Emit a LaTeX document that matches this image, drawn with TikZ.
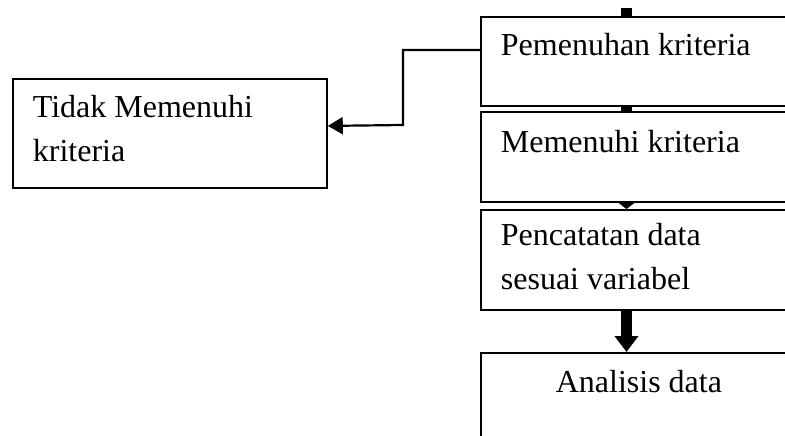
\documentclass[tikz,border=0pt]{standalone}
\usepackage{fontspec}
\setmainfont{Liberation Serif}
\usetikzlibrary{positioning,arrows.meta}
\tikzset{
  kotak/.style={rectangle, draw=black, line width=1.8pt, anchor=north west,
    inner ysep=0pt, inner xsep=20pt, text width=276pt, align=flush left,
    font=\fontsize{32}{44}\selectfont},
  panah/.style={-{Triangle[length=15pt,width=17pt]}, line width=2.2pt},
  batang/.style={line width=11pt},
  panahkecil/.style={-{Triangle[length=7pt,width=18pt]}, line width=0.5pt},
  panahtebal/.style={-{Triangle[length=16pt,width=23pt]}, line width=11pt},
}
\begin{document}
\begin{tikzpicture}[x=1pt,y=-1pt]
  \useasboundingbox (0,0) rectangle (785,436);
  \clip (0,0) rectangle (785,436);
  % kotak alur
  \node[kotak, text height=39pt, text depth=50pt] (penuh) at (480,16) {Pemenuhan kriteria};
  \node[kotak, text height=41pt, text depth=49pt] (memenuhi) at (480,111) {Memenuhi kriteria};
  \node[kotak, text height=36pt, text depth=64pt] (catat) at (480,209) {Pencatatan data\\sesuai variabel};
  \node[kotak, text height=40pt, text depth=70pt, align=flush center] (analisis) at (480,352) {Analisis data};
  \node[kotak, text width=274pt, text height=39pt, text depth=70pt] (tidak) at (12,78) {Tidak Memenuhi\\kriteria};
  % penghubung
  \coordinate (atas) at (626.5,8);
  \coordinate (belok) at (403,125);
  \draw[batang] (atas) -- (atas |- penuh.north);
  \draw[batang] (penuh.south -| atas) -- (memenuhi.north -| atas);
  \draw[panahkecil] (memenuhi.south -| atas) -- (catat.north -| atas);
  \draw[panahtebal] (catat.south -| atas) -- (analisis.north -| atas);
  \draw[panah] ([yshift=-34pt]penuh.north west) -| (belok) -- ([yshift=7.5pt]tidak.east);
\end{tikzpicture}
\end{document}
